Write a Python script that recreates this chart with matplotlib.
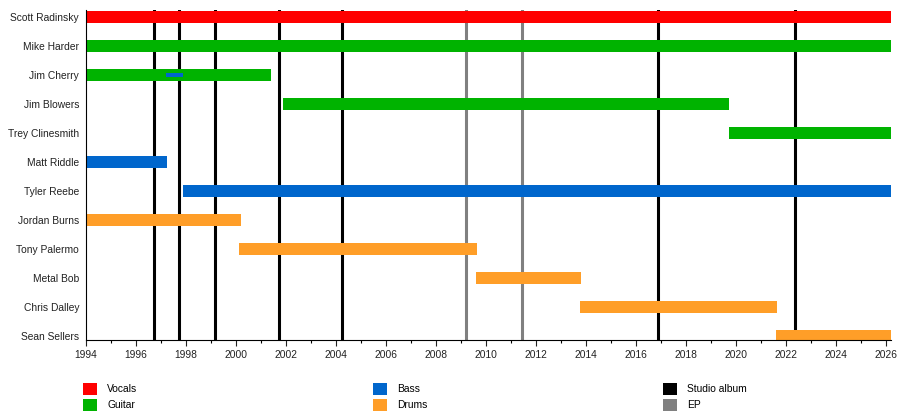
import matplotlib
matplotlib.use("Agg")
import matplotlib.pyplot as plt
from matplotlib.patches import Patch

plt.rcParams['font.family'] = ['Liberation Sans', 'DejaVu Sans']
plt.rcParams['font.size'] = 7.4

# band members, top to bottom
members = ["Scott Radinsky", "Mike Harder", "Jim Cherry", "Jim Blowers",
           "Trey Clinesmith", "Matt Riddle", "Tyler Reebe", "Jordan Burns",
           "Tony Palermo", "Metal Bob", "Chris Dalley", "Sean Sellers"]
roles = ["Vocals", "Guitar", "Guitar", "Guitar", "Guitar", "Bass", "Bass",
         "Drums", "Drums", "Drums", "Drums", "Drums"]
start = [1994, 1994, 1994, 2001.88, 2019.72, 1994, 1997.88,
         1994, 2000.12, 2009.6, 2013.76, 2021.6]
end = [2026.2, 2026.2, 2001.4, 2019.72, 2026.2, 1997.24, 2026.2,
       2000.2, 2009.64, 2013.8, 2021.64, 2026.2]

# Jim Cherry's short spell on bass
extra_member = "Jim Cherry"
extra_role = "Bass"
extra_span = (1997.2, 1997.88)

studio_albums = [1996.72, 1997.72, 1999.16, 2001.72, 2004.24, 2016.88, 2022.36]
eps = [2009.2, 2011.44]

colors = {"Vocals": "#ff0000", "Guitar": "#00b300", "Bass": "#0066cc",
          "Drums": "#ff9e28", "Studio album": "#000000", "EP": "#808080"}

fig = plt.figure(figsize=(9, 4.2), dpi=100)
ax = fig.add_axes([86 / 900, 80 / 420, 805 / 900, 330 / 420])

for x in studio_albums:
    ax.axvline(x, color=colors["Studio album"], lw=2.2, zorder=1)
for x in eps:
    ax.axvline(x, color=colors["EP"], lw=2.2, zorder=1)

ypos = list(range(len(members)))
for i, m in enumerate(members):
    ax.barh(i, end[i] - start[i], left=start[i], height=0.43,
            color=colors[roles[i]], zorder=2)

j = members.index(extra_member)
ax.barh(j, extra_span[1] - extra_span[0], left=extra_span[0], height=0.14,
        color=colors[extra_role], zorder=3)

ax.set_xlim(1994, 2026.2)
ax.set_ylim(len(members) - 1 + 0.14, -0.24)
ax.set_yticks(ypos)
ax.set_yticklabels(members)
ax.tick_params(axis='y', length=0, pad=5, colors='#222222')
ax.set_xticks(range(1994, 2027, 2))
ax.set_xticks(range(1994, 2027), minor=True)
ax.tick_params(axis='x', which='major', length=4, width=0.8, pad=3, colors='#222222')
ax.tick_params(axis='x', which='minor', length=2.5, width=0.8)
for s in ['top', 'right']:
    ax.spines[s].set_visible(False)
for s in ['left', 'bottom']:
    ax.spines[s].set_linewidth(0.8)

# legend in three columns
groups = [["Vocals", "Guitar"], ["Bass", "Drums"], ["Studio album", "EP"]]
xs = [80, 370, 660]
for g, x0 in zip(groups, xs):
    handles = [Patch(facecolor=colors[k], edgecolor='none', label=k) for k in g]
    fig.legend(handles=handles, loc='upper left',
               bbox_to_anchor=(x0 / 900, 1 - 380 / 420), frameon=False,
               handlelength=1.35, handleheight=1.35, handletextpad=1.0,
               labelspacing=0.45, borderaxespad=0, borderpad=0.3)

fig.savefig("out.png", dpi=100)
